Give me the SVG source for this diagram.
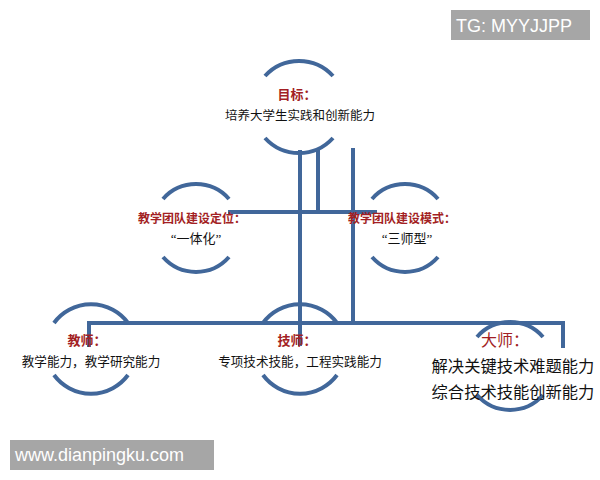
<svg xmlns="http://www.w3.org/2000/svg" width="600" height="480" viewBox="0 0 600 480">
<style>
.arc{fill:none;stroke:#41679a;stroke-width:4;stroke-linecap:butt}
.ln{fill:none;stroke:#41679a;stroke-width:4;stroke-linecap:butt}
.t{font-family:"Liberation Serif","Noto Sans CJK SC",serif;text-anchor:middle}
.red{fill:#a31f24;font-weight:bold}
.blk{fill:#111}
.wm{font-family:"Liberation Sans",Arial,sans-serif;fill:#fff;font-size:18px}
</style>
<rect width="600" height="480" fill="#fff"/>
<g id="connectors">
<path class="ln" d="M300,150 V346"/>
<path class="ln" d="M318,148 V212"/>
<path class="ln" d="M353,148 V323"/>
<path class="ln" d="M228,212 H377"/>
<path class="ln" d="M89,347 V323 H563 V348"/>
</g>
<g id="goal">
<path class="arc" d="M265,76 A46,46 0 0 1 333,76"/>
<path class="arc" d="M265,138 A46,46 0 0 0 333,138"/>
<text class="t red" x="297" y="99" font-size="13">目标：</text>
<text class="t blk" x="300" y="120" font-size="12.5">培养大学生实践和创新能力</text>
</g>
<g id="positioning">
<path class="arc" d="M163,199 A44,44 0 0 1 229,199"/>
<path class="arc" d="M163,257 A44,44 0 0 0 229,257"/>
<text class="t red" x="192" y="223" font-size="12">教学团队建设定位：</text>
<text class="t blk" x="196" y="243" font-size="13">“一体化”</text>
</g>
<g id="mode">
<path class="arc" d="M372,199 A44,44 0 0 1 438,199"/>
<path class="arc" d="M372,257 A44,44 0 0 0 438,257"/>
<text class="t red" x="402" y="223" font-size="12">教学团队建设模式：</text>
<text class="t blk" x="407" y="243" font-size="13">“三师型”</text>
</g>
<g id="teacher">
<path class="arc" d="M54,323 A46,46 0 0 1 128,323"/>
<path class="arc" d="M54,375 A46,46 0 0 0 128,375"/>
<text class="t red" x="87" y="345" font-size="13">教师：</text>
<text class="t blk" x="91" y="366" font-size="12.6">教学能力，教学研究能力</text>
</g>
<g id="technician">
<path class="arc" d="M263,323 A46,46 0 0 1 337,323"/>
<path class="arc" d="M263,375 A46,46 0 0 0 337,375"/>
<text class="t red" x="297" y="345" font-size="13">技师：</text>
<text class="t blk" x="300" y="366" font-size="12.6">专项技术技能，工程实践能力</text>
</g>
<g id="master">
<path class="arc" d="M477,337 A44,44 0 0 1 543,337"/>
<path class="arc" d="M477,395 A44,44 0 0 0 543,395"/>
<text class="t" x="505" y="346" font-size="16" fill="#a31f24">大师：</text>
<text class="t blk" x="513" y="372" font-size="16.3">解决关键技术难题能力</text>
<text class="t blk" x="513" y="398" font-size="16.3">综合技术技能创新能力</text>
</g>
<g id="watermarks">
<rect x="451" y="10" width="139" height="30" fill="#a6a6a6"/>
<text class="wm" x="456" y="32">TG: MYYJJPP</text>
<rect x="10" y="440" width="204" height="30" fill="#a6a6a6"/>
<text class="wm" x="15" y="461">www.dianpingku.com</text>
</g>
</svg>
